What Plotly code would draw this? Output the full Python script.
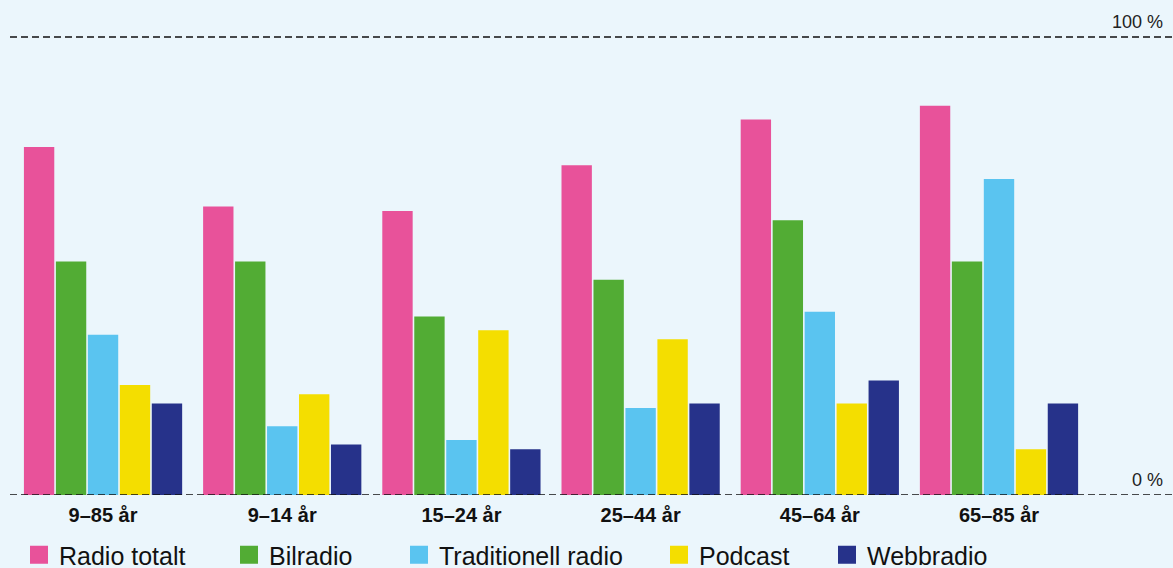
import plotly.graph_objects as go

categories = ["9–85 år", "9–14 år", "15–24 år", "25–44 år", "45–64 år", "65–85 år"]
series_names = ["Radio totalt", "Bilradio", "Traditionell radio", "Podcast", "Webbradio"]
radio_totalt = [76, 63, 62, 72, 82, 85]
bilradio = [51, 51, 39, 47, 60, 51]
traditionell_radio = [35, 15, 12, 19, 40, 69]
podcast = [24, 22, 36, 34, 20, 10]
webbradio = [20, 11, 10, 20, 25, 20]
y_ticks = [0, 100]
y_tick_labels = ["0 %", "100 %"]

colors = ["#e8529a", "#52ac34", "#5ac4f0", "#f4de00", "#26328a"]
values = [radio_totalt, bilradio, traditionell_radio, podcast, webbradio]
legend_x_px = [19, 229, 399, 659, 827]
W, H = 1173, 568
bg = "#ebf6fc"

fig = go.Figure()
for name, vals, col in zip(series_names, values, colors):
    fig.add_trace(go.Bar(x=categories, y=vals, name=name, marker=dict(color=col, line=dict(width=0)),
                         showlegend=False, hoverinfo="skip"))

layout_legends = {}
for i, (name, col) in enumerate(zip(series_names, colors)):
    key = "legend" if i == 0 else f"legend{i+1}"
    fig.add_trace(go.Scatter(x=[None], y=[None], mode="markers", name=name,
                             marker=dict(symbol="square", size=16, color=col, line=dict(color=col, width=2)),
                             legend=key, showlegend=True))
    layout_legends[key] = dict(
        x=legend_x_px[i] / W, xref="container", xanchor="left",
        y=(H - 555) / H, yref="container", yanchor="middle",
        orientation="h", bgcolor="rgba(0,0,0,0)", borderwidth=0,
        font=dict(family="Liberation Sans, Arial, sans-serif", size=25, color="#111111"),
        itemclick=False, itemdoubleclick=False,
    )

for t, lab in zip(y_ticks, y_tick_labels):
    fig.add_shape(type="line", xref="paper", yref="y", x0=10 / W, x1=1, y0=t, y1=t,
                  line=dict(color="#111111", width=1.4, dash="7px,4px"), layer="above")
    fig.add_annotation(xref="paper", yref="y", x=1165 / W, y=t, text=lab, showarrow=False,
                       xanchor="right", yanchor="bottom", yshift=3,
                       font=dict(family="Liberation Sans, Arial, sans-serif", size=18, color="#222222"))

fig.update_layout(
    width=W, height=H,
    margin=dict(l=0, r=0, t=10, b=73),
    paper_bgcolor=bg, plot_bgcolor=bg,
    barmode="group", bargap=0.108, bargroupgap=0.05,
    xaxis=dict(range=[-0.575, 5.971], showgrid=False, zeroline=False, showline=False, ticks="",
               tickfont=dict(family="Liberation Sans, Arial, sans-serif", size=20, color="#111111", weight="bold"),
               ticklabelstandoff=6, fixedrange=True),
    yaxis=dict(range=[0, 105.9], showgrid=False, zeroline=False, showline=False, showticklabels=False,
               ticks="", fixedrange=True),
    **layout_legends,
)

fig.write_html("out.html")
